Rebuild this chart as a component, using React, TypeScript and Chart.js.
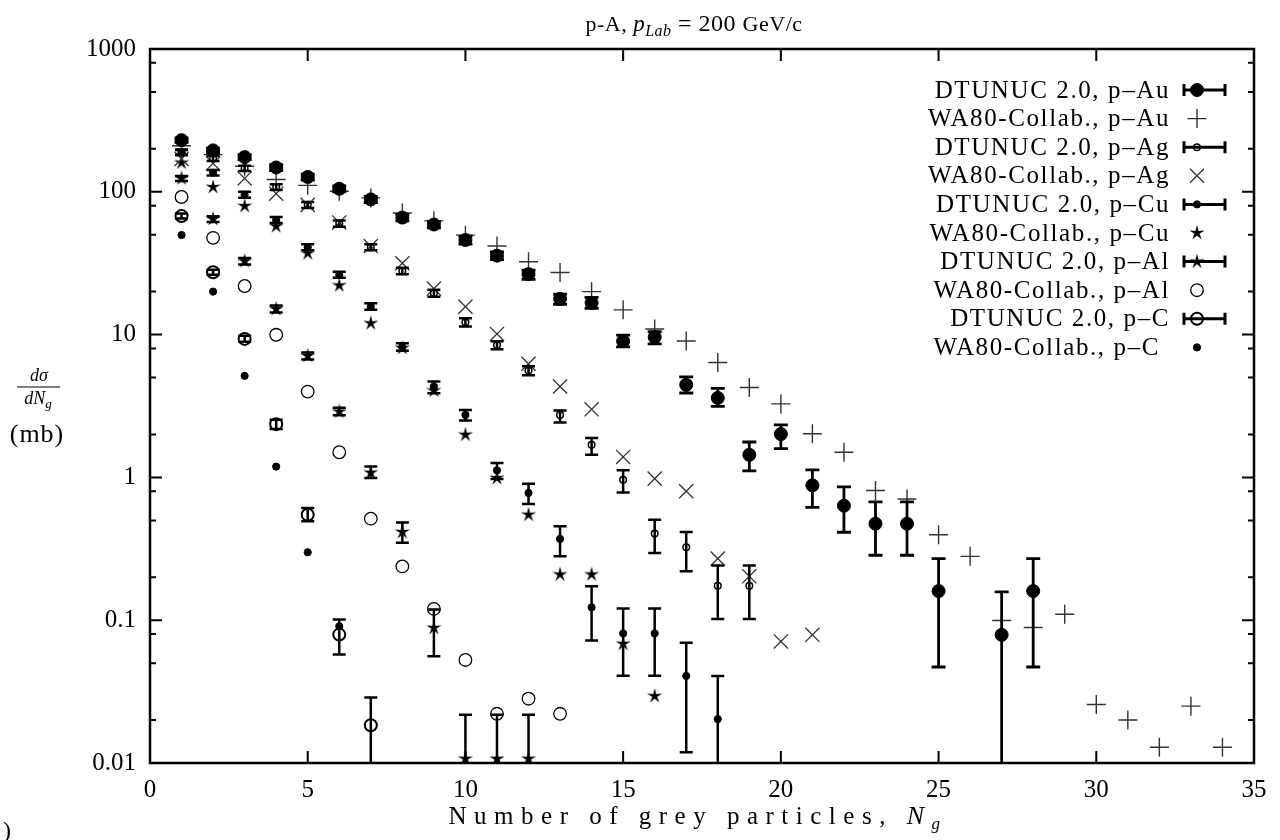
import React, { useEffect, useRef } from 'react';
import { Chart, registerables } from 'chart.js';

Chart.register(...registerables);

const FONT = '"Liberation Serif", "DejaVu Serif", serif';

// ---- axes ----
const xTickValues = [0, 5, 10, 15, 20, 25, 30, 35];
const yTickValues = [0.01, 0.1, 1, 10, 100, 1000];
const yTickLabels = ['0.01', '0.1', '1', '10', '100', '1000'];
const yMinorFactors = [2, 5, 8];

// ---- DTUNUC 2.0, p-Au ----
const auDtNg = [1, 2, 3, 4, 5, 6, 7, 8, 9, 10, 11, 12, 13, 14, 15, 16, 17, 18, 19, 20, 21, 22, 23, 24, 25, 27, 28];
const auDtVal = [230, 195, 175, 148, 127, 105, 88.5, 66, 59, 46, 35.7, 26.5, 17.8, 16.7, 9.0, 9.6, 4.45, 3.6, 1.44, 2.01, 0.88, 0.634, 0.474, 0.474, 0.16, 0.079, 0.16];
const auDtLo = [222, 188, 168, 141, 121, 100, 84, 62.5, 56, 43, 33.5, 24.4, 16.3, 15.3, 8.2, 8.6, 3.9, 3.14, 1.11, 1.59, 0.617, 0.413, 0.285, 0.285, 0.047, 0.001, 0.047];
const auDtHi = [238, 202, 182, 155, 133, 110, 93, 69.5, 62, 49, 38, 28.3, 19.2, 18.2, 9.9, 10.5, 5.05, 4.2, 1.77, 2.33, 1.13, 0.857, 0.673, 0.673, 0.27, 0.158, 0.27];

// ---- WA80-Collab., p-Au ----
const auWaNg = [1, 2, 3, 4, 5, 6, 7, 8, 9, 10, 11, 12, 13, 14, 15, 16, 17, 18, 19, 20, 21, 22, 23, 24, 25, 26, 27, 28, 29, 30, 31, 32, 33, 34];
const auWaVal = [210, 182, 151, 122, 111, 101, 90.6, 71, 62.6, 49.7, 41.7, 32.4, 27.2, 20, 14.9, 10.95, 9.03, 6.37, 4.26, 3.27, 2.02, 1.5, 0.81, 0.706, 0.397, 0.28, 0.0995, 0.089, 0.11, 0.0257, 0.02, 0.0129, 0.025, 0.0129];

// ---- DTUNUC 2.0, p-Ag ----
const agDtNg = [1, 2, 3, 4, 5, 6, 7, 8, 9, 10, 11, 12, 13, 14, 15, 16, 17, 18, 19];
const agDtVal = [190, 171, 146, 108, 81, 60, 40.9, 27.9, 19.5, 12.2, 8.45, 5.6, 2.74, 1.69, 0.963, 0.404, 0.324, 0.174, 0.174];
const agDtLo = [182, 164, 140, 103, 77, 57, 39, 26.5, 18.4, 11.4, 7.9, 5.2, 2.42, 1.44, 0.785, 0.296, 0.22, 0.102, 0.102];
const agDtHi = [198, 178, 152, 113, 85, 63, 43, 29.4, 20.6, 13, 9.0, 6.0, 2.94, 1.89, 1.12, 0.506, 0.415, 0.242, 0.242];

// ---- WA80-Collab., p-Ag ----
const agWaNg = [1, 2, 3, 4, 5, 6, 7, 8, 9, 10, 11, 12, 13, 14, 15, 16, 17, 18, 19, 20, 21];
const agWaVal = [170, 158, 124, 97, 81, 61, 41.7, 31.6, 21, 15.7, 10.1, 6.25, 4.33, 3.0, 1.39, 0.98, 0.8, 0.27, 0.203, 0.071, 0.079];

// ---- DTUNUC 2.0, p-Cu ----
const cuDtNg = [1, 2, 3, 4, 5, 6, 7, 8, 9, 10, 11, 12, 13, 14, 15, 16, 17, 18];
const cuDtVal = [188, 136, 95.3, 63.3, 40.9, 26.2, 15.7, 8.19, 4.33, 2.74, 1.12, 0.778, 0.371, 0.123, 0.0808, 0.0808, 0.0407, 0.0203];
const cuDtLo = [180, 130, 91, 60.5, 39, 25, 14.9, 7.7, 3.89, 2.5, 0.974, 0.651, 0.28, 0.0721, 0.0409, 0.0409, 0.0119, 0.001];
const cuDtHi = [196, 142, 100, 66.5, 43, 27.5, 16.6, 8.7, 4.69, 2.97, 1.26, 0.904, 0.455, 0.173, 0.121, 0.121, 0.0696, 0.0407];

// ---- WA80-Collab., p-Cu ----
const cuWaNg = [1, 2, 3, 4, 5, 6, 7, 8, 9, 10, 11, 12, 13, 14, 15, 16];
const cuWaVal = [160, 108, 79.5, 57.4, 37.1, 22.1, 12.0, 8.05, 4.06, 1.99, 0.99, 0.548, 0.209, 0.209, 0.0684, 0.0294];

// ---- DTUNUC 2.0, p-Al ----
const alDtNg = [1, 2, 3, 4, 5, 6, 7, 8, 9, 10, 11, 12];
const alDtVal = [124, 64.5, 32.7, 15.1, 7.1, 2.89, 1.08, 0.415, 0.0884, 0.0107, 0.0107, 0.0107];
const alDtLo = [119, 61.5, 31, 14.3, 6.7, 2.72, 0.99, 0.348, 0.056, 0.001, 0.001, 0.001];
const alDtHi = [129, 67.5, 34.4, 16, 7.5, 3.07, 1.19, 0.484, 0.119, 0.0218, 0.0218, 0.0218];

// ---- WA80-Collab., p-Al ----
const alWaNg = [1, 2, 3, 4, 5, 6, 7, 8, 9, 10, 11, 12, 13];
const alWaVal = [92, 47.6, 21.9, 9.97, 3.99, 1.5, 0.514, 0.238, 0.12, 0.0527, 0.0221, 0.0282, 0.0221];

// ---- DTUNUC 2.0, p-C ----
const cDtNg = [1, 2, 3, 4, 5, 6, 7];
const cDtVal = [67.6, 27.3, 9.33, 2.36, 0.548, 0.0793, 0.0184];
const cDtLo = [65, 26.2, 8.9, 2.18, 0.493, 0.0576, 0.001];
const cDtHi = [70.5, 28.4, 9.8, 2.53, 0.611, 0.101, 0.0288];

// ---- WA80-Collab., p-C ----
const cWaNg = [1, 2, 3, 4, 5, 6];
const cWaVal = [49.8, 20.0, 5.14, 1.19, 0.299, 0.0907];

const legendLabels = [
  'DTUNUC 2.0, p\u2013Au',
  'WA80-Collab., p\u2013Au',
  'DTUNUC 2.0, p\u2013Ag',
  'WA80-Collab., p\u2013Ag',
  'DTUNUC 2.0, p\u2013Cu',
  'WA80-Collab., p\u2013Cu',
  'DTUNUC 2.0, p\u2013Al',
  'WA80-Collab., p\u2013Al',
  'DTUNUC 2.0, p\u2013C',
  'WA80-Collab., p\u2013C',
];

function makeStar(): HTMLCanvasElement {
  const c = document.createElement('canvas');
  c.width = 18;
  c.height = 18;
  const g = c.getContext('2d')!;
  const R = 8, r = 2.6;
  g.beginPath();
  for (let i = 0; i < 10; i++) {
    const ang = -Math.PI / 2 + (i * Math.PI) / 5;
    const rr = i % 2 === 0 ? R : r;
    const px = 9 + rr * Math.cos(ang);
    const py = 9 + rr * Math.sin(ang);
    if (i === 0) g.moveTo(px, py);
    else g.lineTo(px, py);
  }
  g.closePath();
  g.fillStyle = '#000';
  g.fill();
  return c;
}

type Kind = 'bigdot' | 'plus' | 'smallOpen' | 'x' | 'smallDot' | 'star' | 'open' | 'openBold' | 'dot';

function pointOpts(kind: Kind, star: HTMLCanvasElement) {
  switch (kind) {
    case 'bigdot':
      return { pointStyle: 'circle', pointRadius: 6.5, pointBackgroundColor: '#000', pointBorderColor: '#000', pointBorderWidth: 1 };
    case 'plus':
      return { pointStyle: 'cross', pointRadius: 9.5, pointBackgroundColor: '#333', pointBorderColor: '#333', pointBorderWidth: 1.4 };
    case 'smallOpen':
      return { pointStyle: 'circle', pointRadius: 3.3, pointBackgroundColor: 'rgba(0,0,0,0)', pointBorderColor: '#000', pointBorderWidth: 1.5 };
    case 'x':
      return { pointStyle: 'crossRot', pointRadius: 10, pointBackgroundColor: '#333', pointBorderColor: '#333', pointBorderWidth: 1.3 };
    case 'smallDot':
      return { pointStyle: 'circle', pointRadius: 3.6, pointBackgroundColor: '#000', pointBorderColor: '#000', pointBorderWidth: 1 };
    case 'star':
      return { pointStyle: star, pointRadius: 8, pointBackgroundColor: '#000', pointBorderColor: '#000', pointBorderWidth: 1 };
    case 'open':
      return { pointStyle: 'circle', pointRadius: 6.3, pointBackgroundColor: 'rgba(0,0,0,0)', pointBorderColor: '#000', pointBorderWidth: 1.3 };
    case 'openBold':
      return { pointStyle: 'circle', pointRadius: 6, pointBackgroundColor: 'rgba(0,0,0,0)', pointBorderColor: '#000', pointBorderWidth: 2 };
    case 'dot':
    default:
      return { pointStyle: 'circle', pointRadius: 3.6, pointBackgroundColor: '#000', pointBorderColor: '#000', pointBorderWidth: 1 };
  }
}

function drawMarker(ctx: CanvasRenderingContext2D, kind: Kind, x: number, y: number, star: HTMLCanvasElement) {
  ctx.save();
  ctx.strokeStyle = '#000';
  ctx.fillStyle = '#000';
  const circ = (r: number, fill: boolean, w: number) => {
    ctx.beginPath();
    ctx.arc(x, y, r, 0, Math.PI * 2);
    if (fill) ctx.fill();
    ctx.lineWidth = w;
    ctx.stroke();
  };
  switch (kind) {
    case 'bigdot': circ(6.5, true, 1); break;
    case 'smallOpen': circ(3.3, false, 1.5); break;
    case 'smallDot': circ(3.6, true, 1); break;
    case 'open': circ(6.3, false, 1.3); break;
    case 'openBold': circ(6, false, 2); break;
    case 'dot': circ(3.6, true, 1); break;
    case 'plus':
      ctx.strokeStyle = '#333'; ctx.lineWidth = 1.4;
      ctx.beginPath(); ctx.moveTo(x - 9.5, y); ctx.lineTo(x + 9.5, y); ctx.moveTo(x, y - 9.5); ctx.lineTo(x, y + 9.5); ctx.stroke();
      break;
    case 'x': {
      const d = 7;
      ctx.strokeStyle = '#333'; ctx.lineWidth = 1.3;
      ctx.beginPath(); ctx.moveTo(x - d, y - d); ctx.lineTo(x + d, y + d); ctx.moveTo(x - d, y + d); ctx.lineTo(x + d, y - d); ctx.stroke();
      break;
    }
    case 'star':
      ctx.drawImage(star, x - star.width / 2, y - star.height / 2);
      break;
  }
  ctx.restore();
}

type Part = { t: string; f: string; dy?: number };
function drawRich(ctx: CanvasRenderingContext2D, parts: Part[], cx: number, baseline: number, align: 'center' | 'left' = 'center', spacing = 0) {
  ctx.save();
  (ctx as any).letterSpacing = spacing + 'px';
  ctx.textAlign = 'left';
  ctx.textBaseline = 'alphabetic';
  let total = 0;
  for (const p of parts) { ctx.font = p.f; total += ctx.measureText(p.t).width; }
  let x = align === 'center' ? cx - total / 2 : cx;
  for (const p of parts) {
    ctx.font = p.f;
    ctx.fillText(p.t, x, baseline + (p.dy || 0));
    x += ctx.measureText(p.t).width;
  }
  ctx.restore();
}

export default function App() {
  const ref = useRef<HTMLCanvasElement | null>(null);

  useEffect(() => {
    if (!ref.current) return;
    const star = makeStar();
    const toPts = (xs: number[], ys: number[]) => xs.map((x, i) => ({ x, y: ys[i] }));

    const series: { label: string; kind: Kind; xs: number[]; ys: number[]; lo?: number[]; hi?: number[]; errW?: number; cap?: number }[] = [
      { label: legendLabels[0], kind: 'bigdot', xs: auDtNg, ys: auDtVal, lo: auDtLo, hi: auDtHi, errW: 2.8, cap: 7 },
      { label: legendLabels[1], kind: 'plus', xs: auWaNg, ys: auWaVal },
      { label: legendLabels[2], kind: 'smallOpen', xs: agDtNg, ys: agDtVal, lo: agDtLo, hi: agDtHi, errW: 2.5, cap: 6.5 },
      { label: legendLabels[3], kind: 'x', xs: agWaNg, ys: agWaVal },
      { label: legendLabels[4], kind: 'smallDot', xs: cuDtNg, ys: cuDtVal, lo: cuDtLo, hi: cuDtHi, errW: 2.5, cap: 6.5 },
      { label: legendLabels[5], kind: 'star', xs: cuWaNg, ys: cuWaVal },
      { label: legendLabels[6], kind: 'star', xs: alDtNg, ys: alDtVal, lo: alDtLo, hi: alDtHi, errW: 2.5, cap: 6.5 },
      { label: legendLabels[7], kind: 'open', xs: alWaNg, ys: alWaVal },
      { label: legendLabels[8], kind: 'openBold', xs: cDtNg, ys: cDtVal, lo: cDtLo, hi: cDtHi, errW: 2.5, cap: 6.5 },
      { label: legendLabels[9], kind: 'dot', xs: cWaNg, ys: cWaVal },
    ];

    const datasets: any[] = series.map((s) => ({
      label: s.label,
      data: toPts(s.xs, s.ys),
      showLine: false,
      ...pointOpts(s.kind, star),
      pointHoverRadius: 0,
      errLo: s.lo,
      errHi: s.hi,
      errW: s.errW,
      cap: s.cap,
      kind: s.kind,
    }));

    const decor = {
      id: 'decor',
      afterDatasetsDraw(chart: any) {
        const { ctx, chartArea: a } = chart;
        const xs = chart.scales.x, ys = chart.scales.y;
        ctx.save();
        ctx.beginPath();
        ctx.rect(a.left, a.top, a.right - a.left, a.bottom - a.top);
        ctx.clip();
        ctx.strokeStyle = '#000';
        chart.data.datasets.forEach((ds: any) => {
          if (!ds.errLo) return;
          ctx.lineWidth = ds.errW;
          ds.data.forEach((p: any, i: number) => {
            const px = xs.getPixelForValue(p.x);
            const yl = ys.getPixelForValue(ds.errLo[i]);
            const yh = ys.getPixelForValue(ds.errHi[i]);
            ctx.beginPath();
            ctx.moveTo(px, yl);
            ctx.lineTo(px, yh);
            ctx.moveTo(px - ds.cap, yl);
            ctx.lineTo(px + ds.cap, yl);
            ctx.moveTo(px - ds.cap, yh);
            ctx.lineTo(px + ds.cap, yh);
            ctx.stroke();
          });
        });
        ctx.restore();
      },
      afterDraw(chart: any) {
        const { ctx, chartArea: a } = chart;
        const xs = chart.scales.x, ys = chart.scales.y;
        ctx.save();
        ctx.strokeStyle = '#000';
        // ticks
        ctx.lineWidth = 2;
        ctx.beginPath();
        xTickValues.forEach((v) => {
          const px = xs.getPixelForValue(v);
          ctx.moveTo(px, a.bottom); ctx.lineTo(px, a.bottom - 12);
          ctx.moveTo(px, a.top); ctx.lineTo(px, a.top + 12);
        });
        yTickValues.forEach((v, k) => {
          const py = ys.getPixelForValue(v);
          ctx.moveTo(a.left, py); ctx.lineTo(a.left + 12, py);
          ctx.moveTo(a.right, py); ctx.lineTo(a.right - 12, py);
          if (k < yTickValues.length - 1) {
            yMinorFactors.forEach((f) => {
              const pm = ys.getPixelForValue(v * f);
              ctx.moveTo(a.left, pm); ctx.lineTo(a.left + 6, pm);
              ctx.moveTo(a.right, pm); ctx.lineTo(a.right - 6, pm);
            });
          }
        });
        ctx.stroke();
        // frame
        ctx.lineWidth = 2.5;
        ctx.strokeRect(a.left, a.top, a.right - a.left, a.bottom - a.top);

        // legend
        ctx.fillStyle = '#000';
        chart.data.datasets.forEach((ds: any, i: number) => {
          const yy = 90 + i * 28.6;
          ctx.save();
          (ctx as any).letterSpacing = '1.6px';
          ctx.font = '25px ' + FONT;
          ctx.textAlign = 'right';
          ctx.textBaseline = 'middle';
          ctx.fillText(ds.label, i === 9 ? 1160 : 1170, yy + 1);
          ctx.restore();
          if (ds.errLo) {
            ctx.lineWidth = 3;
            ctx.beginPath();
            ctx.moveTo(1184, yy); ctx.lineTo(1225, yy);
            ctx.moveTo(1184, yy - 6); ctx.lineTo(1184, yy + 6);
            ctx.moveTo(1225, yy - 6); ctx.lineTo(1225, yy + 6);
            ctx.stroke();
          }
          drawMarker(ctx, ds.kind, 1197, yy, star);
        });

        // title
        ctx.fillStyle = '#000';
        drawRich(ctx, [
          { t: 'p-A, ', f: '22px ' + FONT },
          { t: 'p', f: 'italic 23px ' + FONT },
          { t: 'Lab', f: 'italic 16px ' + FONT, dy: 5 },
          { t: ' = 200 ', f: '24px ' + FONT },
          { t: 'GeV/c', f: '22px ' + FONT },
        ], 694, 31, 'center', 0.5);

        // x title
        drawRich(ctx, [
          { t: 'Number of grey particles, ', f: '25px ' + FONT },
          { t: 'N', f: 'italic 26px ' + FONT },
          { t: 'g', f: 'italic 17px ' + FONT, dy: 5 },
        ], 698, 824, 'center', 7.5);

        // y title
        drawRich(ctx, [
          { t: 'd\u03C3', f: 'italic 18px ' + FONT },
        ], 39, 381);
        ctx.lineWidth = 1.2;
        ctx.beginPath();
        ctx.moveTo(17, 387); ctx.lineTo(60, 387);
        ctx.stroke();
        drawRich(ctx, [
          { t: 'dN', f: 'italic 18px ' + FONT },
          { t: 'g', f: 'italic 13px ' + FONT, dy: 4 },
        ], 38, 404);
        drawRich(ctx, [{ t: '(mb)', f: '26px ' + FONT }], 37, 442, 'center', 1);

        // corner mark
        drawRich(ctx, [{ t: ')', f: '24px ' + FONT }], 3, 838, 'left');
        ctx.restore();
      },
    };

    const chart = new Chart(ref.current, {
      type: 'scatter',
      data: { datasets },
      options: {
        animation: false,
        responsive: false,
        events: [],
        layout: { padding: { left: 0, top: 49, right: 26, bottom: 0 } },
        plugins: {
          legend: { display: false },
          title: { display: false },
          tooltip: { enabled: false },
        },
        scales: {
          x: {
            type: 'linear',
            min: 0,
            max: 35,
            afterFit: (s: any) => { s.height = 77; },
            afterBuildTicks: (s: any) => { s.ticks = xTickValues.map((v) => ({ value: v })); },
            ticks: {
              font: { family: FONT, size: 25 },
              color: '#000',
              padding: 12,
              maxRotation: 0,
              autoSkip: false,
            },
            grid: { display: false, drawTicks: false },
            border: { display: false },
          },
          y: {
            type: 'logarithmic',
            min: 0.01,
            max: 1000,
            afterFit: (s: any) => { s.width = 150; },
            afterBuildTicks: (s: any) => { s.ticks = yTickValues.map((v) => ({ value: v })); },
            ticks: {
              font: { family: FONT, size: 25 },
              color: '#000',
              padding: 14,
              autoSkip: false,
              callback: (v: any) => {
                const k = yTickValues.indexOf(Number(v));
                return k >= 0 ? yTickLabels[k] : '';
              },
            },
            grid: { display: false, drawTicks: false },
            border: { display: false },
          },
        },
      } as any,
      plugins: [decor],
    });

    return () => chart.destroy();
  }, []);

  return (
    <div style={{ position: 'absolute', left: 0, top: 0, width: 1280, height: 840, background: '#fff' }}>
      <canvas ref={ref} width={1280} height={840} style={{ display: 'block', width: 1280, height: 840 }} />
    </div>
  );
}
